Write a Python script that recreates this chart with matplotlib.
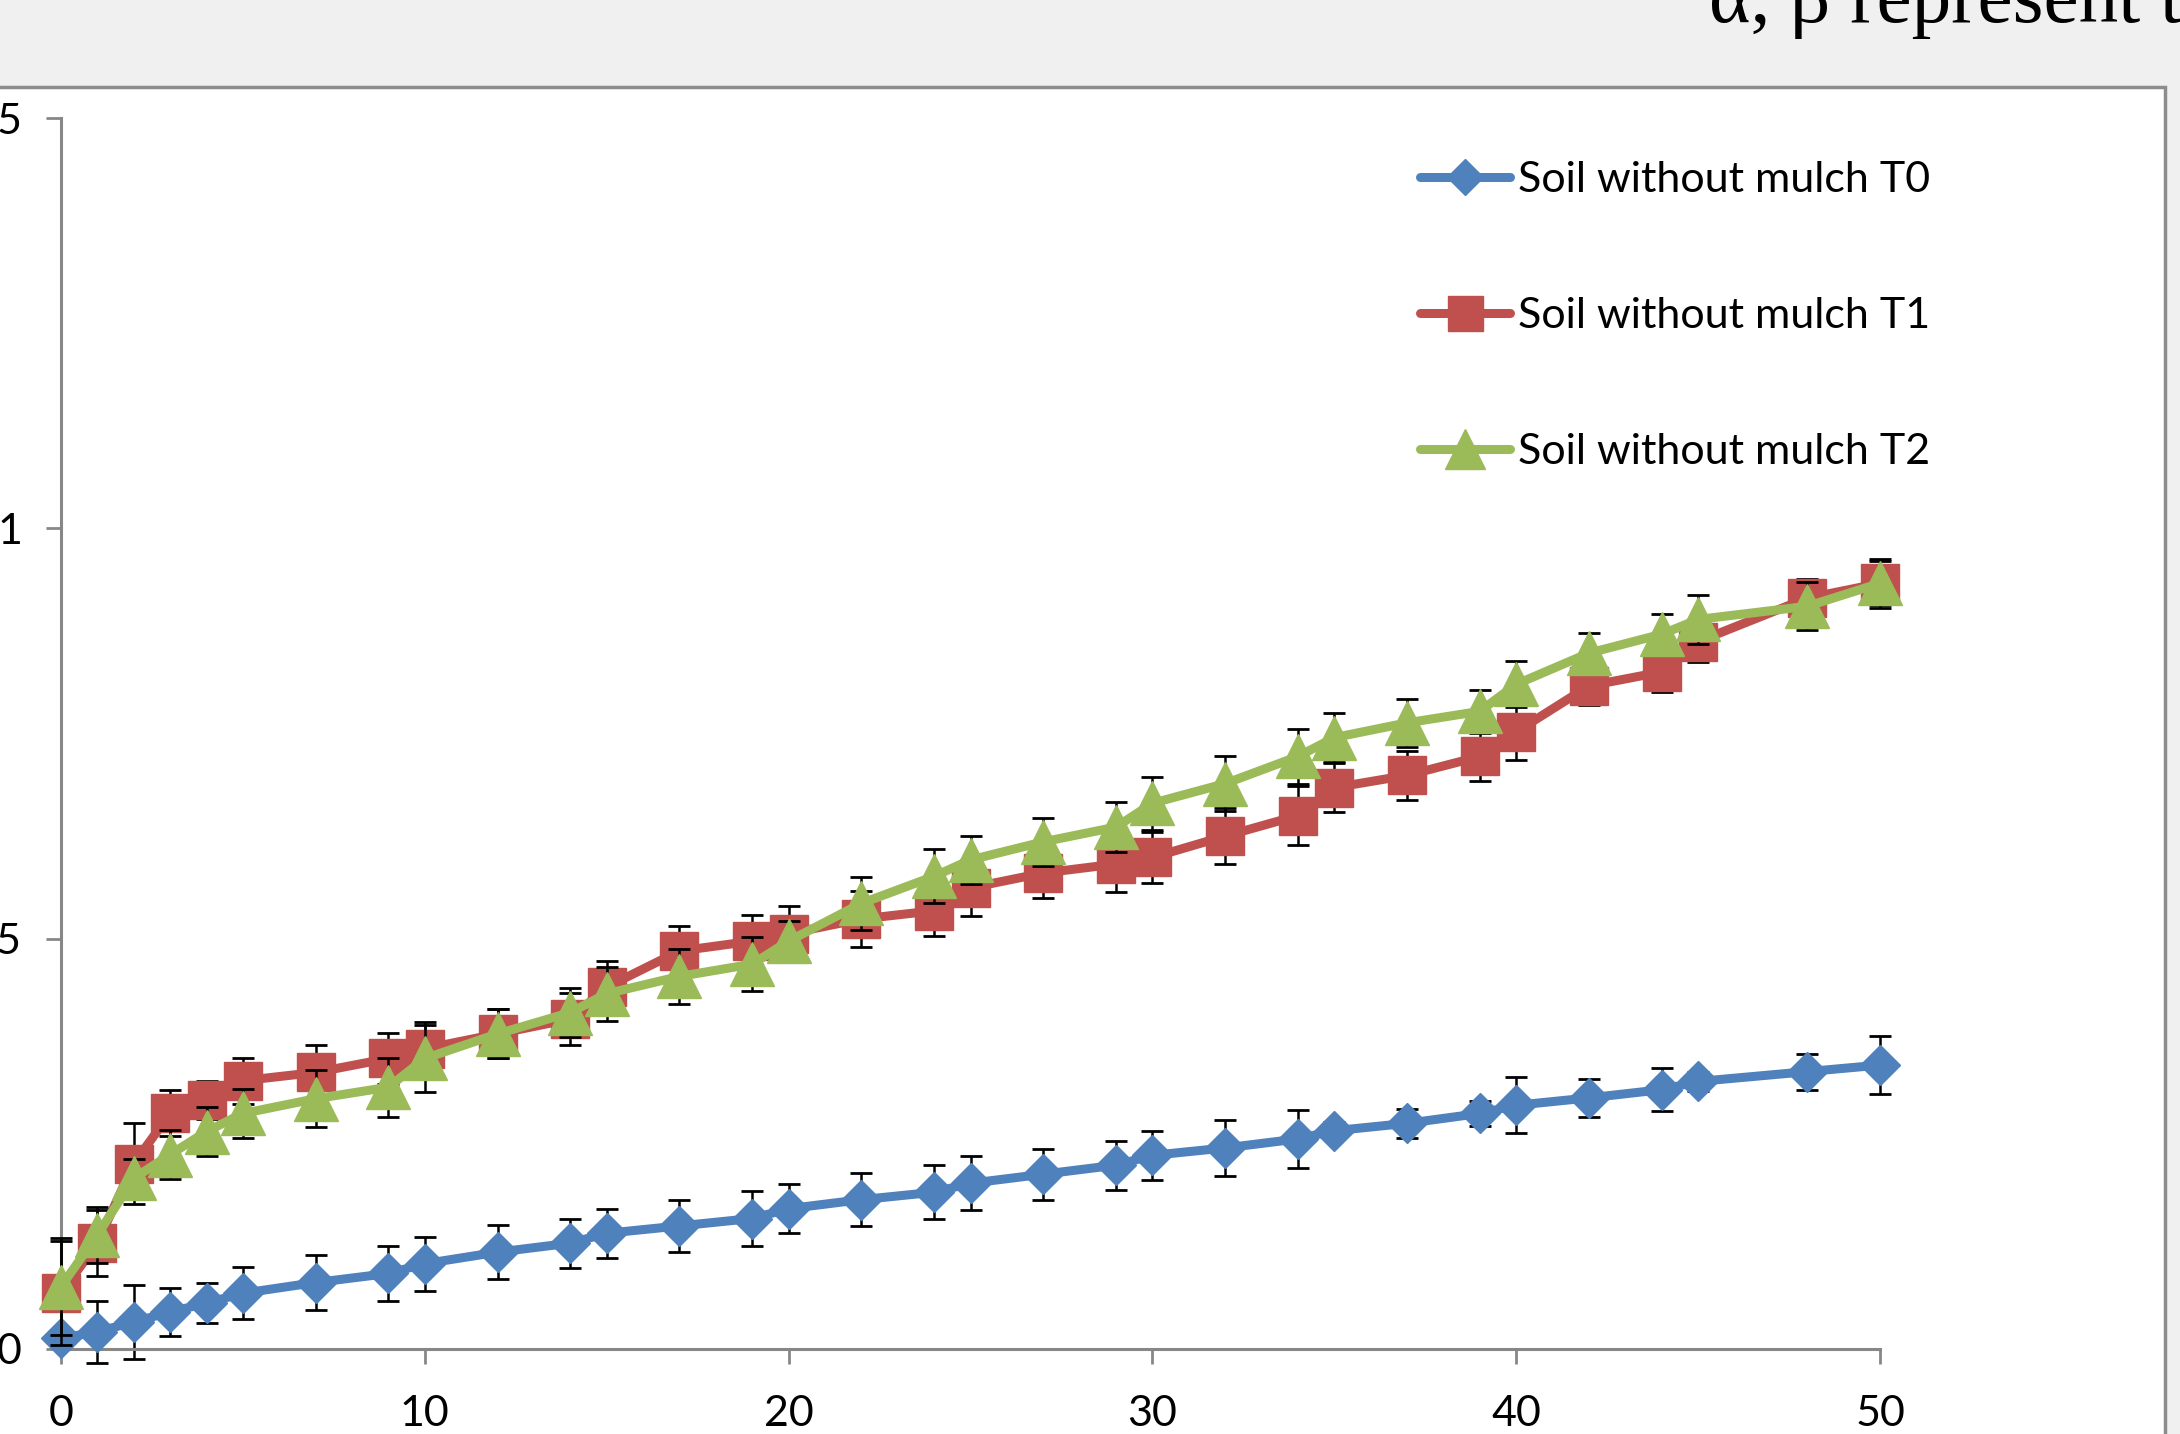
import matplotlib
matplotlib.use("Agg")
import matplotlib.pyplot as plt
from matplotlib.patches import Rectangle
from matplotlib.lines import Line2D

# ---------------- data ----------------
days = [0, 1, 2, 3, 4, 5, 7, 9, 10, 12, 14, 15, 17, 19, 20, 22, 24, 25, 27, 29,
        30, 32, 34, 35, 37, 39, 40, 42, 44, 45, 48, 50]

t0 = [0.013, 0.021, 0.033, 0.045, 0.056, 0.068, 0.081, 0.092, 0.104, 0.118, 0.129,
      0.141, 0.150, 0.159, 0.171, 0.182, 0.191, 0.202, 0.213, 0.224, 0.236, 0.245,
      0.256, 0.266, 0.275, 0.287, 0.297, 0.306, 0.316, 0.326, 0.338, 0.346]
t0_err = [0.0, 0.038, 0.045, 0.029, 0.024, 0.032, 0.033, 0.034, 0.033, 0.033, 0.030,
          0.030, 0.032, 0.033, 0.030, 0.032, 0.033, 0.033, 0.031, 0.030, 0.030, 0.034,
          0.035, 0.010, 0.018, 0.015, 0.034, 0.023, 0.026, 0.012, 0.022, 0.035]

t1 = [0.068, 0.129, 0.226, 0.287, 0.303, 0.327, 0.337, 0.354, 0.366, 0.384, 0.402,
      0.441, 0.485, 0.497, 0.506, 0.524, 0.534, 0.562, 0.580, 0.591, 0.599, 0.625,
      0.650, 0.684, 0.699, 0.722, 0.752, 0.808, 0.825, 0.862, 0.915, 0.933]
t1_err = [0.063, 0.040, 0.049, 0.028, 0.023, 0.028, 0.034, 0.031, 0.032, 0.030, 0.032,
          0.032, 0.030, 0.032, 0.034, 0.034, 0.031, 0.034, 0.031, 0.034, 0.031, 0.034,
          0.036, 0.030, 0.030, 0.030, 0.034, 0.023, 0.024, 0.025, 0.023, 0.030]

t2 = [0.076, 0.139, 0.208, 0.237, 0.265, 0.287, 0.305, 0.319, 0.354, 0.384, 0.410,
      0.433, 0.454, 0.469, 0.497, 0.543, 0.576, 0.596, 0.618, 0.636, 0.665, 0.689,
      0.722, 0.745, 0.763, 0.777, 0.810, 0.848, 0.871, 0.889, 0.905, 0.933]
t2_err = [0.059, 0.034, 0.024, 0.030, 0.030, 0.030, 0.035, 0.036, 0.041, 0.030, 0.030,
          0.033, 0.034, 0.033, 0.025, 0.032, 0.033, 0.029, 0.029, 0.030, 0.032, 0.034,
          0.033, 0.030, 0.029, 0.026, 0.028, 0.025, 0.025, 0.030, 0.029, 0.027]

labels = ["Soil without mulch T0", "Soil without mulch T1", "Soil without mulch T2"]
x_ticks = [0, 10, 20, 30, 40, 50]
y_ticks = [0, 0.5, 1, 1.5]
y_ticklabels = ["0", "0.5", "1", "1.5"]
caption = "α, β represent the"

# ---------------- style ----------------
W, H = 2180, 1434
DPI = 100
UI_FONT = ["Lato", "DejaVu Sans"]
FS = 31
colors = ["#4F81BD", "#C0504D", "#9BBB59"]
markers = ["D", "s", "^"]
msizes = [20, 28, 32]
LW = 6.5
axis_grey = "#878787"

fig = plt.figure(figsize=(W / DPI, H / DPI), dpi=DPI, facecolor="#F0F0F0")

# white chart area with grey border (behind everything)
chart = Rectangle((-20 / W, -20 / H), (2165 + 20) / W, (H - 87 + 20) / H,
                  transform=fig.transFigure, facecolor="white",
                  edgecolor="#8C8C8C", linewidth=2.5, zorder=-10)
fig.patches.append(chart)

fig.text(1709 / W, 1 - 22 / H, caption, fontsize=57,
         family=["Liberation Serif", "DejaVu Serif"], color="black",
         ha="left", va="baseline", zorder=5)

ax = fig.add_axes([61 / W, (H - 1349) / H, (1880 - 61) / W, (1349 - 118) / H])
ax.set_facecolor("none")
ax.set_zorder(2)

series = [(t0, t0_err), (t1, t1_err), (t2, t2_err)]
for i, (vals, errs) in enumerate(series):
    ax.errorbar(days, vals, yerr=errs, fmt="none", ecolor="black",
                elinewidth=1.8, capsize=8, capthick=2.0, zorder=2 + 2 * i,
                clip_on=False)
    ax.plot(days, vals, color=colors[i], marker=markers[i], markersize=msizes[i],
            linewidth=LW, solid_joinstyle="round", solid_capstyle="round",
            zorder=3 + 2 * i, label=labels[i], clip_on=False)

ax.set_xlim(0, 50)
ax.set_ylim(0, 1.5)
ax.set_xticks(x_ticks)
ax.set_yticks(y_ticks)
ax.set_yticklabels(y_ticklabels)
for s in ["top", "right"]:
    ax.spines[s].set_visible(False)
for s in ["left", "bottom"]:
    ax.spines[s].set_color(axis_grey)
    ax.spines[s].set_linewidth(2.2)
ax.tick_params(axis="both", direction="out", length=11, width=2.0,
               colors=axis_grey, labelcolor="black", labelsize=FS)
ax.tick_params(axis="x", pad=22)
ax.tick_params(axis="y", pad=17)
for lab in ax.get_xticklabels() + ax.get_yticklabels():
    lab.set_family(UI_FONT)

handles = [Line2D([], [], color=colors[i], marker=markers[i],
                  markersize=msizes[i] * 0.9, linewidth=LW,
                  solid_capstyle="round") for i in range(3)]
leg = ax.legend(handles, labels, loc="upper left",
                bbox_to_anchor=((1420 - 61) / (1880 - 61), (1349 - 161) / (1349 - 118)),
                frameon=False, prop={"family": UI_FONT, "size": FS},
                handlelength=2.1, handletextpad=0.17, labelspacing=2.28,
                borderaxespad=0, borderpad=0)

fig.savefig("out.png", dpi=DPI, facecolor=fig.get_facecolor())
